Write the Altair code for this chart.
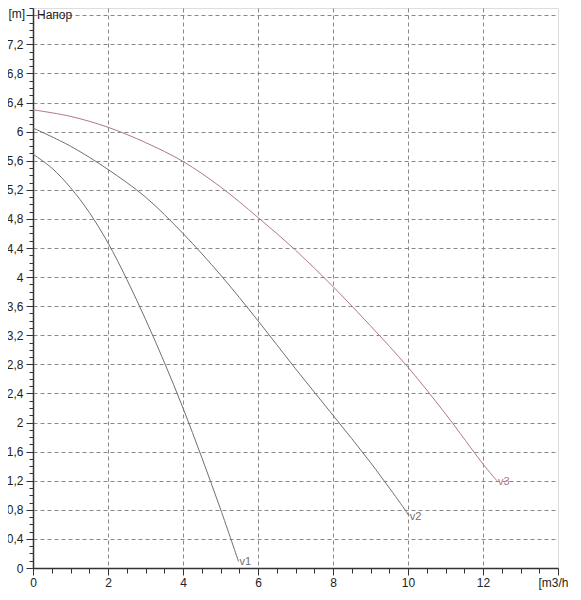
import altair as alt
import pandas as pd

# ---- data ----
v1_x = [0, 0.5, 1, 1.5, 2, 2.5, 3, 3.5, 4, 4.5, 5, 5.48]
v1_y = [5.69, 5.50, 5.23, 4.89, 4.47, 3.97, 3.42, 2.83, 2.20, 1.52, 0.81, 0.09]

v2_x = [0, 1, 2, 3, 4, 5, 6, 7, 8, 9, 10, 10.02]
v2_y = [6.05, 5.80, 5.48, 5.10, 4.60, 4.03, 3.40, 2.74, 2.10, 1.45, 0.74, 0.72]

v3_x = [0, 1, 2, 3, 4, 5, 6, 7, 8, 9, 10, 11, 12, 12.37]
v3_y = [6.30, 6.21, 6.06, 5.85, 5.59, 5.24, 4.82, 4.37, 3.87, 3.33, 2.76, 2.12, 1.43, 1.20]

series_names = ["v1", "v2", "v3"]
series_colors = ["#6f6f6f", "#6f6f6f", "#b07886"]

x_ticks = [i * 0.5 for i in range(0, 29)]            # 0 .. 14 step 0.5
y_ticks = [round(i * 0.1, 1) for i in range(0, 78)]  # 0 .. 7.7 step 0.1

rows = []
for name, xs, ys in zip(series_names, [v1_x, v2_x, v3_x], [v1_y, v2_y, v3_y]):
    for i, (a, b) in enumerate(zip(xs, ys)):
        rows.append({"series": name, "q": a, "h": b, "order": i, "last": i == len(xs) - 1})
df = pd.DataFrame(rows)

W, H = 525, 560

x_scale = alt.Scale(domain=[0, 14], nice=False, zero=False)
y_scale = alt.Scale(domain=[0, 7.7], nice=False, zero=False)
color_scale = alt.Scale(domain=series_names, range=series_colors)

x_major = "round(datum.value*2) % 4 == 0"
y_major = "round(datum.value*10) % 4 == 0"

x_axis = alt.Axis(
    values=x_ticks, tickCount=200,
    labelExpr=f"({x_major} && datum.value <= 12) ? format(datum.value, '~g') : ''",
    labelOverlap=False, labelFlush=False,
    labelFont="Liberation Sans", labelFontSize=12, labelColor="#222",
    labelPadding=2,
    tickColor="#333", tickWidth=1,
    tickSize={"condition": {"test": x_major, "value": 7}, "value": 5},
    domainColor="#333", domainWidth=1.5,
    grid=True, gridColor="#888", gridDash=[4, 3], gridWidth=1,
    gridOpacity={"condition": {"test": f"{x_major} && datum.value > 0 && datum.value < 14", "value": 1}, "value": 0},
    title="[m3/h", titleFont="Liberation Sans", titleFontSize=12, titleFontWeight="normal",
    titleColor="#222", titleAlign="left", titleAnchor="start", titleBaseline="top",
    titleX=W - 20, titleY=9,
)

y_axis = alt.Axis(
    values=y_ticks, tickCount=200,
    labelExpr=f"({y_major} && datum.value < 7.5) ? replace(format(datum.value, '.1~f'), '.', ',') : ''",
    labelOverlap=False, labelFlush=False,
    labelFont="Liberation Sans", labelFontSize=12, labelColor="#222",
    labelPadding=3,
    tickColor="#333", tickWidth=1,
    tickSize={"condition": {"test": y_major, "value": 7}, "value": 4},
    domainColor="#333", domainWidth=1.5,
    grid=True, gridColor="#888", gridDash=[4, 3], gridWidth=1,
    gridOpacity={"condition": {"test": f"{y_major} && datum.value > 0", "value": 1}, "value": 0},
    title="[m]", titleFont="Liberation Sans", titleFontSize=12, titleFontWeight="normal",
    titleColor="#222", titleAngle=0, titleAlign="left", titleBaseline="middle",
    titleX=-25, titleY=5,
)

base = alt.Chart(df)

lines = base.mark_line(strokeWidth=1, interpolate="catmull-rom").encode(
    x=alt.X("q:Q", scale=x_scale, axis=x_axis),
    y=alt.Y("h:Q", scale=y_scale, axis=y_axis),
    color=alt.Color("series:N", scale=color_scale, legend=None),
    detail="series:N",
    order="order:O",
)

labels = base.transform_filter("datum.last").mark_text(
    align="left", baseline="middle", dx=1, dy=1, fontSize=11, font="Liberation Sans"
).encode(
    x=alt.X("q:Q", scale=x_scale),
    y=alt.Y("h:Q", scale=y_scale),
    text="series:N",
    color=alt.Color("series:N", scale=color_scale, legend=None),
)

title_text = alt.Chart(pd.DataFrame({"t": ["Напор"]})).mark_text(
    align="left", baseline="middle", fontSize=12, font="Liberation Sans", color="#222"
).encode(x=alt.value(4), y=alt.value(7), text="t:N")

chart = alt.layer(lines, labels, title_text).properties(
    width=W, height=H,
    autosize=alt.AutoSizeParams(type="none"),
    padding={"left": 25, "top": 0, "right": 15, "bottom": 24},
).configure_view(
    stroke="#555", strokeWidth=1.5
).configure(background="white")

chart.save("out.html", embed_options={"renderer": "svg", "actions": False})
